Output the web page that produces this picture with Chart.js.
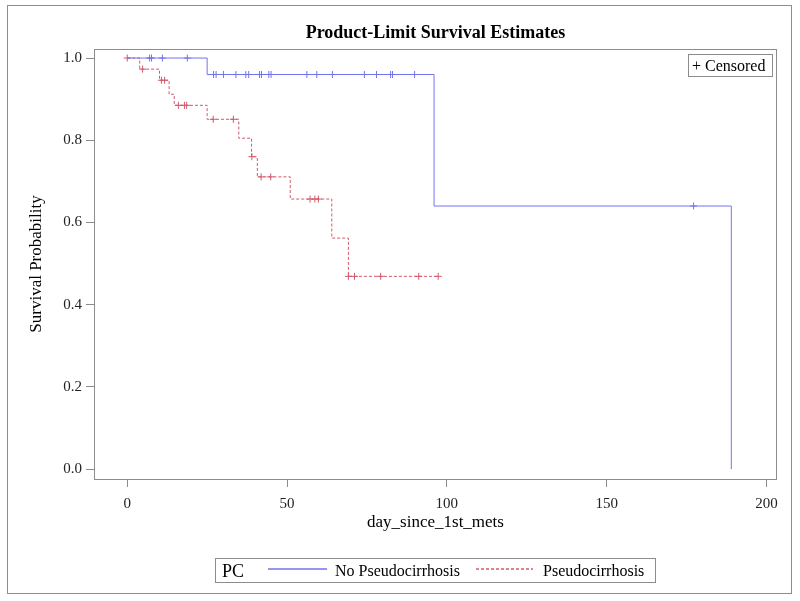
<!DOCTYPE html>
<html>
<head>
<meta charset="utf-8">
<script src="https://cdn.jsdelivr.net/npm/chart.js@4/dist/chart.umd.min.js"></script>
<style>
  html, body { margin: 0; padding: 0; background: #fff; }
  #wrap { position: relative; width: 800px; height: 601px; }
</style>
</head>
<body>
<div id="wrap"><canvas id="km" width="800" height="601"></canvas></div>
<script>
const xTicks = [0, 50, 100, 150, 200];
const yTicks = [0, 0.2, 0.4, 0.6, 0.8, 1.0];

const groupLabels = ['No Pseudocirrhosis', 'Pseudocirrhosis'];

// event times and the survival estimate after each one
const noPcTimes = [0, 25, 96, 189];
const noPcSurv = [1.0, 0.96, 0.64, 0.0];
const noPcCensored = [7, 7.6, 11, 18.8, 27, 27.8, 30.1, 34, 37.1, 38, 41.4, 42, 44.3, 45,
  56.2, 59.3, 64.2, 74.2, 78, 82.4, 83, 89.9, 177.2];

const pcTimes = [0, 3.9, 10.1, 13.1, 14.7, 25, 34.9, 38.9, 40.7, 51, 64, 69.2, 97.3];
const pcSurv = [1.0, 0.973, 0.946, 0.912, 0.885, 0.851, 0.805, 0.760, 0.711, 0.657, 0.562, 0.469, 0.469];
const pcCensored = [0, 4.8, 10.7, 11.7, 16, 17.9, 18.6, 26.9, 33.2, 39, 41.9, 44.9, 57.2, 58.7,
  59.8, 69.2, 71.1, 79.3, 91.2, 97.3];

const blue = '#7373ee';
const red = '#d2596b';
const serif = "'Liberation Serif', 'Times New Roman', serif";

function curve(times, surv) {
  return times.map((t, i) => ({x: t, y: surv[i]}));
}

// censored mark sits on the curve level at that time
function censorPoints(times, surv, cens) {
  return cens.map(t => {
    let s = surv[0];
    for (let i = 0; i < times.length; i++) {
      if (times[i] <= t) s = surv[i];
    }
    return {x: t, y: s};
  });
}

const decor = {
  id: 'decor',
  beforeDraw(chart) {
    const ctx = chart.ctx;
    ctx.save();
    ctx.fillStyle = '#fff';
    ctx.fillRect(0, 0, chart.width, chart.height);
    ctx.restore();
  },
  afterDraw(chart) {
    const ctx = chart.ctx;
    const a = chart.chartArea;
    const mid = (a.left + a.right) / 2;
    ctx.save();
    ctx.strokeStyle = '#8c8c8c';
    ctx.lineWidth = 1;
    ctx.strokeRect(a.left + 0.5, a.top + 0.5, a.right - a.left - 1, a.bottom - a.top);
    ctx.strokeRect(7.5, 5.5, 784, 588);

    ctx.fillStyle = '#000';
    ctx.textAlign = 'center';
    ctx.textBaseline = 'alphabetic';
    ctx.font = 'bold 18px ' + serif;
    ctx.fillText('Product-Limit Survival Estimates', mid, 38);

    ctx.font = '17px ' + serif;
    ctx.fillText('day_since_1st_mets', mid, 527);

    ctx.save();
    ctx.translate(41, (a.top + a.bottom) / 2);
    ctx.rotate(-Math.PI / 2);
    ctx.fillText('Survival Probability', 0, 0);
    ctx.restore();

    // inset "Censored" legend
    ctx.strokeStyle = '#8c8c8c';
    ctx.strokeRect(688.5, 54.5, 84, 22);
    ctx.textAlign = 'left';
    ctx.font = '16px ' + serif;
    ctx.fillText('+ Censored', 692, 71);

    // group legend
    ctx.strokeRect(215.5, 558.5, 440, 24);
    ctx.font = '18px ' + serif;
    ctx.fillText('PC', 222, 577);
    ctx.font = '16px ' + serif;
    const items = [
      {x0: 268, x1: 327, tx: 335, color: blue, dash: []},
      {x0: 476, x1: 533, tx: 543, color: red, dash: [3, 2]}
    ];
    items.forEach((it, i) => {
      ctx.save();
      ctx.beginPath();
      ctx.strokeStyle = it.color;
      ctx.lineWidth = 1.3;
      ctx.setLineDash(it.dash);
      ctx.moveTo(it.x0, 569);
      ctx.lineTo(it.x1, 569);
      ctx.stroke();
      ctx.restore();
      ctx.fillStyle = '#000';
      ctx.fillText(groupLabels[i], it.tx, 576);
    });
    ctx.restore();
  }
};

const tickFont = {family: serif, size: 15};

new Chart(document.getElementById('km'), {
  type: 'scatter',
  data: {
    datasets: [
      {
        label: groupLabels[0], data: curve(noPcTimes, noPcSurv), showLine: true, stepped: 'before',
        borderColor: blue, borderWidth: 1, pointRadius: 0
      },
      {
        label: groupLabels[1], data: curve(pcTimes, pcSurv), showLine: true, stepped: 'before',
        borderColor: red, borderWidth: 1, borderDash: [3, 2], pointRadius: 0
      },
      {
        label: 'cens0', data: censorPoints(noPcTimes, noPcSurv, noPcCensored),
        pointStyle: 'cross', pointRadius: 3.5, borderColor: blue, borderWidth: 1
      },
      {
        label: 'cens1', data: censorPoints(pcTimes, pcSurv, pcCensored),
        pointStyle: 'cross', pointRadius: 3.5, borderColor: red, borderWidth: 1
      }
    ]
  },
  options: {
    responsive: false,
    animation: false,
    events: [],
    layout: {padding: {top: 49, right: 23, left: 0, bottom: 0}},
    plugins: {legend: {display: false}, tooltip: {enabled: false}, title: {display: false}},
    scales: {
      x: {
        type: 'linear', min: -10.4, max: 203.3,
        afterBuildTicks: s => { s.ticks = xTicks.map(v => ({value: v})); },
        afterFit: s => { s.height = 601 - 479; },
        grid: {drawOnChartArea: false, drawTicks: true, tickLength: 8, color: '#8c8c8c'},
        border: {display: false},
        ticks: {font: tickFont, color: '#222', padding: 8, maxRotation: 0, callback: v => String(v)}
      },
      y: {
        type: 'linear', min: -0.024, max: 1.022,
        afterBuildTicks: s => { s.ticks = yTicks.map(v => ({value: v})); },
        afterFit: s => { s.width = 94; },
        grid: {drawOnChartArea: false, drawTicks: true, tickLength: 8, color: '#8c8c8c'},
        border: {display: false},
        ticks: {font: tickFont, color: '#222', padding: 4, callback: v => v.toFixed(1)}
      }
    }
  },
  plugins: [decor]
});
</script>
</body>
</html>
